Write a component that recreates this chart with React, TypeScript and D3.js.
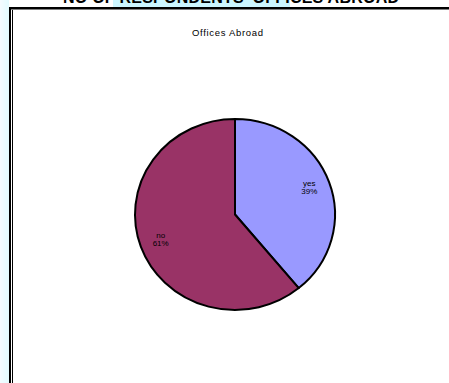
import React from "react";
import * as d3 from "d3";

const categories = ["yes", "no"];
const values = [39, 61];
const colors = ["#9999FF", "#993366"];
const chartTitle = "Offices Abroad";
const pageHeading = "NO OF RESPONDENTS' OFFICES ABROAD";

export default function App() {
  const W = 449, H = 383;
  const cx = 235, cy = 214.5, rx = 100, ry = 95.5;
  const data = categories.map((c, i) => ({ c, v: values[i], color: colors[i] }));
  const pie = d3.pie<any>().value((d) => d.v).sort(null);
  const arcs = pie(data);
  const arc = d3.arc<any>().innerRadius(0).outerRadius(rx);
  const labelArc = d3.arc<any>().innerRadius(79).outerRadius(79);
  const total = d3.sum(values);
  return (
    <svg width={W} height={H} style={{ position: "absolute", left: 0, top: 0, background: "#fff" }}>
      <defs>
        <linearGradient id="lg" x1="0" x2="1" y1="0" y2="0">
          <stop offset="0" stopColor="#f4fbff" />
          <stop offset="1" stopColor="#e2fbff" />
        </linearGradient>
      </defs>
      <rect x={0} y={0} width={9} height={H} fill="url(#lg)" />
      <rect x={113} y={0} width={177} height={7} fill="#ccf6ff" />
      <text x={231} y={3} textAnchor="middle" fontFamily="Arial, Liberation Sans, sans-serif" fontWeight="bold" fontSize={16} fill="#000" textLength={336}>
        {pageHeading}
      </text>
      <rect x={9} y={7} width={W - 9} height={2.5} fill="#000" />
      <rect x={9} y={7} width={2} height={H - 7} fill="#000" />
      <rect x={12} y={10} width={1} height={H - 10} fill="#000" />
      <text x={227.5} y={36} textAnchor="middle" fontFamily="Arial, Liberation Sans, sans-serif" fontSize={9.5} fill="#000" textLength={71}>
        {chartTitle}
      </text>
      <g transform={`translate(${cx},${cy}) scale(1,${ry / rx})`}>
        {arcs.map((a, i) => (
          <path key={i} d={arc(a) || ""} fill={a.data.color} stroke="#000" strokeWidth={2} strokeLinejoin="round" vectorEffect="non-scaling-stroke" />
        ))}
      </g>
      <g transform={`translate(${cx},${cy})`}>
        {arcs.map((a, i) => {
          const [x, y] = labelArc.centroid(a);
          const yy = y * (ry / rx);
          return (
            <text key={i} x={x} y={yy} textAnchor="middle" fontFamily="Arial, Liberation Sans, sans-serif" fontSize={8} fill="#000">
              <tspan x={x} dy={-2.5}>{a.data.c}</tspan>
              <tspan x={x} dy={8}>{Math.round((a.data.v / total) * 100)}%</tspan>
            </text>
          );
        })}
      </g>
    </svg>
  );
}
